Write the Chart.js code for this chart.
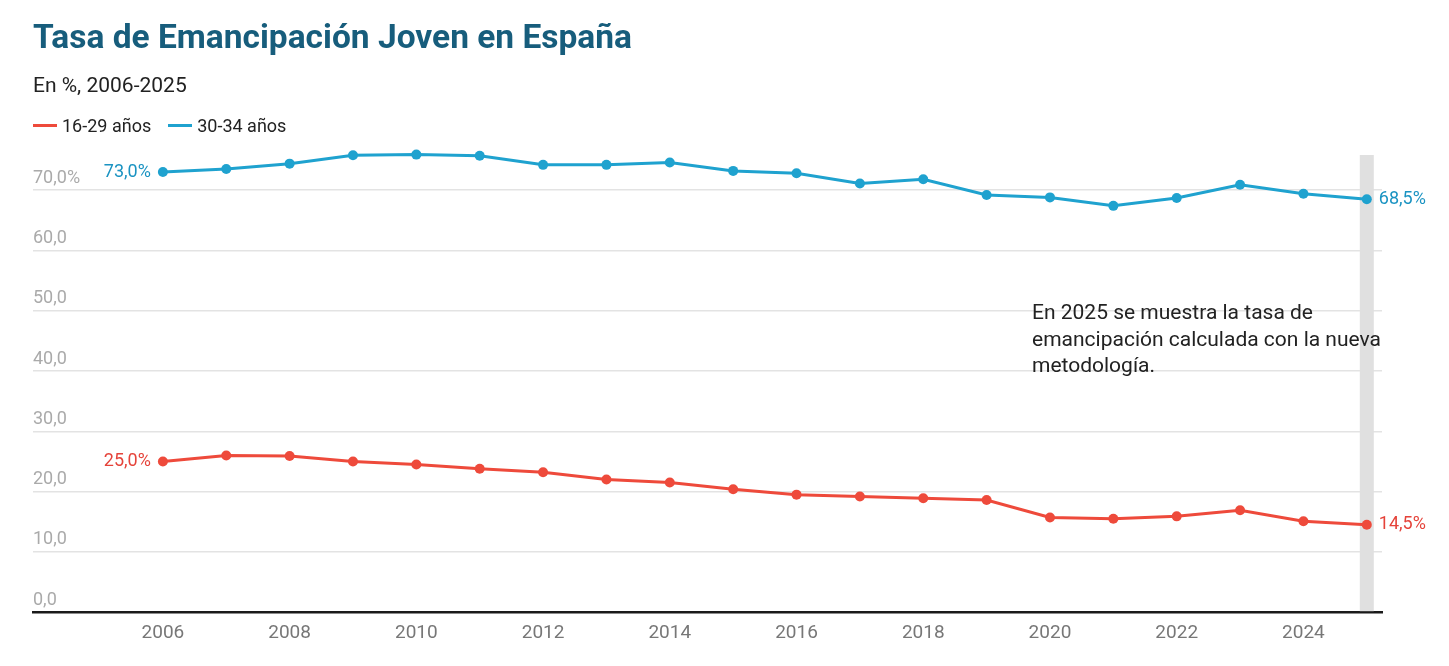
<!DOCTYPE html>
<html lang="es">
<head>
<meta charset="utf-8">
<title>Tasa de Emancipación Joven en España</title>
<script src="https://cdn.jsdelivr.net/npm/chart.js@4.4.1/dist/chart.umd.min.js"></script>
<style>
    body { margin: 0; background: #fff; font-family: Roboto, sans-serif; }
    #wrap { position: relative; width: 1449px; height: 666px; }
    #chart { position: absolute; left: 0; top: 0; }
    h1 { position: absolute; left: 33px; top: 17px; margin: 0; font-size: 33.5px; font-weight: 700; color: #175d7c; }
    .sub { position: absolute; left: 33px; top: 73px; font-size: 21px; color: #222; }
    .legend { position: absolute; left: 33px; top: 115px; font-size: 18px; color: #222; display: flex; gap: 17px; }
    .legend span { display: flex; align-items: center; }
    .legend i { display: inline-block; width: 24px; height: 3px; margin-right: 5px; }
    .note { position: absolute; left: 1032px; top: 299px; font-size: 21px; line-height: 26.5px; color: #222; }
</style>
</head>
<body>
<div id="wrap">
    <canvas id="chart" width="1449" height="666"></canvas>
    <h1>Tasa de Emancipación Joven en España</h1>
    <div class="sub">En %, 2006-2025</div>
    <div class="legend">
        <span><i style="background:#ee4a3b"></i>16-29 años</span>
        <span><i style="background:#1fa2cf"></i>30-34 años</span>
    </div>
    <div class="note">En 2025 se muestra la tasa de<br>emancipación calculada con la nueva<br>metodología.</div>
</div>
<script>
// datos
const years = [2006, 2007, 2008, 2009, 2010, 2011, 2012, 2013, 2014, 2015,
               2016, 2017, 2018, 2019, 2020, 2021, 2022, 2023, 2024, 2025];
const edad16_29 = [25.0, 26.0, 25.9, 25.0, 24.5, 23.8, 23.2, 22.0, 21.5, 20.4,
                   19.5, 19.2, 18.9, 18.6, 15.7, 15.5, 15.9, 16.9, 15.1, 14.5];
const edad30_34 = [73.0, 73.5, 74.4, 75.8, 75.9, 75.7, 74.2, 74.2, 74.6, 73.2,
                   72.8, 71.1, 71.8, 69.2, 68.8, 67.4, 68.7, 70.9, 69.4, 68.5];
const xTicks = [2006, 2008, 2010, 2012, 2014, 2016, 2018, 2020, 2022, 2024];
const yTicks = [0, 10, 20, 30, 40, 50, 60, 70];
const highlightYear = 2025;

const RED = "#ee4a3b";
const BLUE = "#1fa2cf";

const fmt = v => Number(v).toFixed(1).replace(".", ",");

// franja gris del año con nueva metodología
const bandPlugin = {
    id: "band",
    beforeDatasetsDraw(chart) {
        const { ctx, chartArea, scales } = chart;
        const x = scales.x.getPixelForValue(highlightYear);
        ctx.save();
        ctx.fillStyle = "#e0e0e0";
        ctx.fillRect(x - 7, chartArea.top + 1, 14, chartArea.bottom - chartArea.top - 2);
        ctx.restore();
    }
};

// etiquetas de valor al inicio y al final de cada serie
const endLabels = {
    id: "endLabels",
    afterDatasetsDraw(chart) {
        const { ctx } = chart;
        ctx.save();
        ctx.font = "18px Roboto";
        ctx.textBaseline = "middle";
        chart.data.datasets.forEach((ds, i) => {
            const pts = chart.getDatasetMeta(i).data;
            const first = pts[0], last = pts[pts.length - 1];
            ctx.fillStyle = ds.labelColor;
            ctx.textAlign = "right";
            ctx.fillText(fmt(ds.data[0].y) + "%", first.x - 12, first.y);
            ctx.textAlign = "left";
            ctx.fillText(fmt(ds.data[ds.data.length - 1].y) + "%", last.x + 12, last.y);
        });
        ctx.restore();
    }
};

const ctx = document.getElementById("chart").getContext("2d");
new Chart(ctx, {
    type: "line",
    data: {
        datasets: [{
            label: "16-29 años",
            data: edad16_29,
            borderColor: RED,
            backgroundColor: RED,
            labelColor: "#e5433a"
        }, {
            label: "30-34 años",
            data: edad30_34,
            borderColor: BLUE,
            backgroundColor: BLUE,
            labelColor: "#1a93c2"
        }].map(ds => ({
            ...ds,
            data: ds.data.map((v, i) => ({ x: years[i], y: v })),
            borderWidth: 3,
            pointRadius: 5,
            pointHoverRadius: 5,
            pointBorderWidth: 0,
            fill: false,
            clip: false
        }))
    },
    options: {
        responsive: false,
        animation: false,
        layout: { padding: { top: 154, left: 33, right: 67, bottom: 11 } },
        plugins: { legend: { display: false }, tooltip: { enabled: false } },
        scales: {
            x: {
                type: "linear",
                min: 2003.95,
                max: 2025.24,
                afterBuildTicks: s => { s.ticks = xTicks.map(v => ({ value: v })); },
                grid: { display: false, drawTicks: false },
                border: { display: true, color: "#1a1a1a", width: 2.5 },
                ticks: {
                    color: "#777",
                    font: { family: "Roboto", size: 19 },
                    padding: 10,
                    maxRotation: 0,
                    autoSkip: false,
                    callback: v => String(v)
                }
            },
            y: {
                min: 0,
                max: 76,
                afterBuildTicks: s => { s.ticks = yTicks.map(v => ({ value: v })); },
                grid: { color: "#e3e3e3", lineWidth: 1.5, drawTicks: false },
                border: { display: false },
                ticks: {
                    mirror: true,
                    padding: 0,
                    labelOffset: -12,
                    color: "#aaa",
                    font: { family: "Roboto", size: 18 },
                    callback: v => fmt(v) + (v === 70 ? "%" : "")
                }
            }
        }
    },
    plugins: [bandPlugin, endLabels]
});
</script>
</body>
</html>
